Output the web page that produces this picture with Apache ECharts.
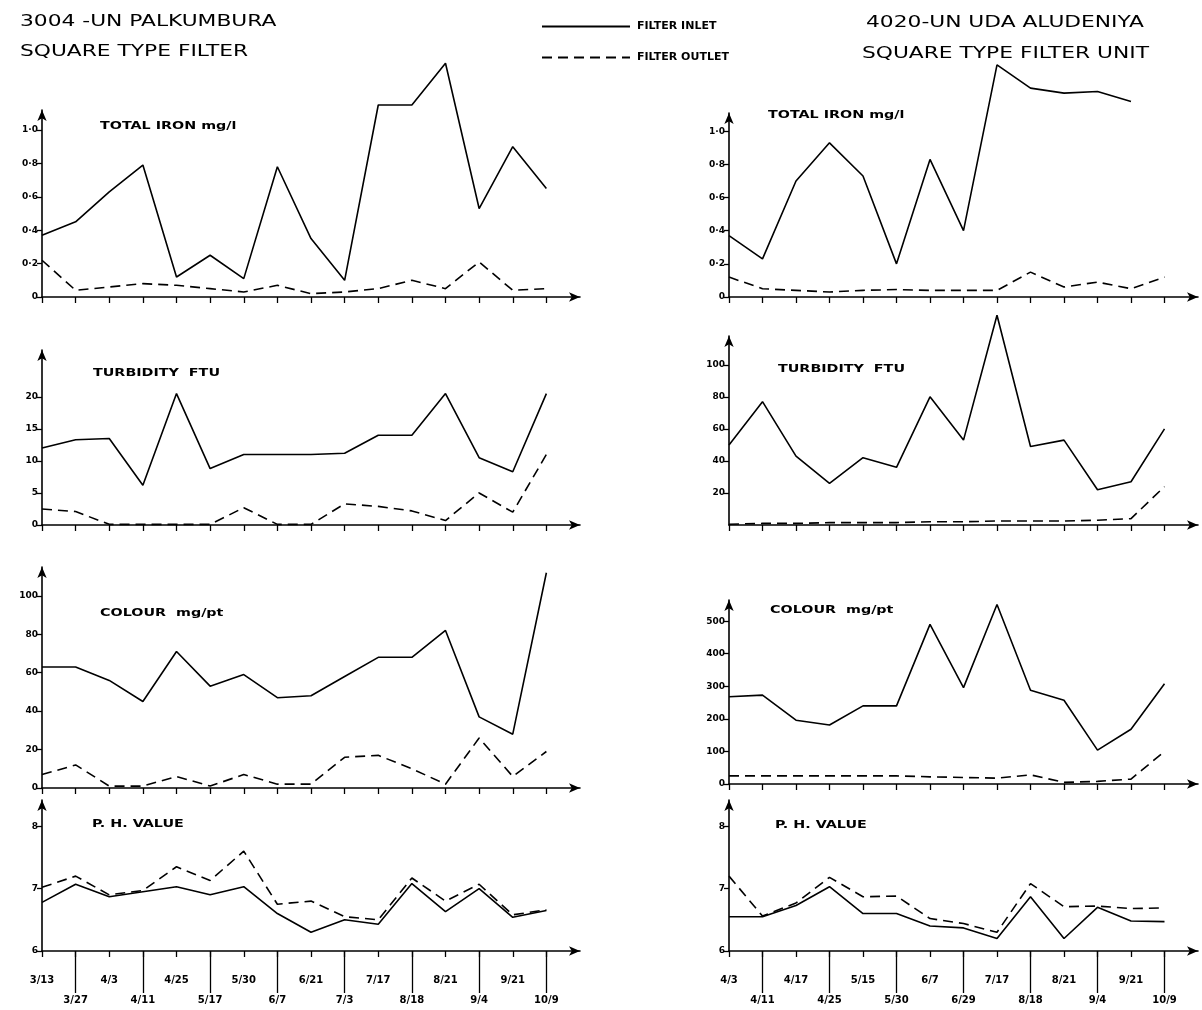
<!DOCTYPE html>
<html><head><meta charset="utf-8">
<script src="https://cdn.jsdelivr.net/npm/echarts@6/dist/echarts.min.js"></script>
<style>html,body{margin:0;padding:0;background:#fff}#c{width:1202px;height:1010px}</style>
</head><body><div id="c"></div>
<script>
// ---- categories ----
const leftDates = ['3/13','3/27','4/3','4/11','4/25','5/17','5/30','6/7','6/21','7/3','7/17','8/18','8/21','9/4','9/21','10/9'];
const rightDates = ['4/3','4/11','4/17','4/25','5/15','5/30','6/7','6/29','7/17','8/18','8/21','9/4','9/21','10/9'];

// ---- tick values ----
const ironTicks = [0,0.2,0.4,0.6,0.8,1.0];
const turbTicksL = [0,5,10,15,20];
const colTicksL = [0,20,40,60,80,100];
const phTicks = [6,7,8];
const turbTicksR = [20,40,60,80,100];
const colTicksR = [0,100,200,300,400,500];

// ---- 3004 - UN PALKUMBURA ----
const ironInL  = [0.37,0.45,0.63,0.79,0.12,0.25,0.11,0.78,0.35,0.10,1.15,1.15,1.40,0.53,0.90,0.65];
const ironOutL = [0.22,0.04,0.06,0.08,0.07,0.05,0.03,0.07,0.02,0.03,0.05,0.10,0.05,0.21,0.04,0.05];
const turbInL  = [12,13.3,13.5,6.2,20.5,8.8,11,11,11,11.2,14,14,20.5,10.5,8.3,20.5];
const turbOutL = [2.5,2.1,0.1,0.1,0.1,0.1,2.7,0.1,0.1,3.3,2.9,2.2,0.7,5,2,11];
const colInL   = [63,63,56,45,71,53,59,47,48,58,68,68,82,37,28,112];
const colOutL  = [7,12,1,1,6,1,7,2,2,16,17,10,2,26,6,19];
const phInL    = [6.78,7.07,6.87,6.95,7.03,6.9,7.03,6.6,6.3,6.5,6.43,7.08,6.63,7.0,6.54,6.65];
const phOutL   = [7.02,7.2,6.9,6.97,7.35,7.13,7.6,6.75,6.8,6.55,6.5,7.17,6.8,7.07,6.58,6.66];

// ---- 4020 - UN UDA ALUDENIYA ----
const ironInR  = [0.37,0.23,0.70,0.93,0.73,0.20,0.83,0.40,1.40,1.26,1.23,1.24,1.18,null];
const ironOutR = [0.12,0.05,0.04,0.03,0.04,0.045,0.04,0.04,0.04,0.15,0.06,0.09,0.05,0.12];
const turbInR  = [50,77,43,26,42,36,80,53,131,49,53,22,27,60];
const turbOutR = [0.5,1,1,1.5,1.5,1.5,2,2,2.5,2.5,2.5,3,4,24];
const colInR   = [268,273,196,181,240,240,490,296,551,288,257,104,168,308];
const colOutR  = [25,25,25,25,25,25,22,20,18,28,5,8,15,100];
const phInR    = [6.55,6.55,6.73,7.03,6.6,6.6,6.4,6.37,6.2,6.87,6.2,6.7,6.48,6.47];
const phOutR   = [7.2,6.56,6.77,7.18,6.87,6.88,6.52,6.44,6.3,7.08,6.71,6.72,6.68,6.69];

const FONT = 'DejaVu Sans';
const ironFmt = v => v === 0 ? '0' : Number(v).toFixed(1).replace('.', '·');
const intFmt = v => String(Math.round(v));

const panels = [
  {side:'L', top:110, zero:297, max:1.12, ticks:ironTicks, fmt:ironFmt, inl:ironInL, out:ironOutL, title:'TOTAL IRON mg/l', tx:100, ty:126},
  {side:'L', top:350, zero:525, max:27.3, ticks:turbTicksL, fmt:intFmt, inl:turbInL, out:turbOutL, title:'TURBIDITY  FTU', tx:93, ty:373},
  {side:'L', top:567, zero:788, max:115, ticks:colTicksL, fmt:intFmt, inl:colInL, out:colOutL, title:'COLOUR  mg/pt', tx:100, ty:613},
  {side:'L', top:800, zero:952, min:6, max:8.42, ticks:phTicks, fmt:intFmt, inl:phInL, out:phOutL, title:'P. H. VALUE', tx:92, ty:824, labels:true},
  {side:'R', top:113, zero:297, max:1.11, ticks:ironTicks, fmt:ironFmt, inl:ironInR, out:ironOutR, title:'TOTAL IRON mg/l', tx:768, ty:115},
  {side:'R', top:336, zero:525, max:118, ticks:turbTicksR, fmt:intFmt, inl:turbInR, out:turbOutR, title:'TURBIDITY  FTU', tx:778, ty:369},
  {side:'R', top:600, zero:784, max:565, ticks:colTicksR, fmt:intFmt, inl:colInR, out:colOutR, title:'COLOUR  mg/pt', tx:770, ty:610},
  {side:'R', top:800, zero:952, min:6, max:8.42, ticks:phTicks, fmt:intFmt, inl:phInR, out:phOutR, title:'P. H. VALUE', tx:775, ty:825, labels:true}
];

const grids = [], xAxes = [], yAxes = [], series = [], graphics = [];
const black = '#000';
panels.forEach((p, gi) => {
  const dates = p.side === 'L' ? leftDates : rightDates;
  const n = dates.length;
  const cats = dates.concat(['']);
  const left = p.side === 'L' ? 42 : 729;
  const width = p.side === 'L' ? 538 : 469;
  grids.push({left: left, width: width, top: p.top, height: p.zero - p.top});
  const xi = xAxes.length;
  xAxes.push({
    type:'category', gridIndex: gi, data: cats, boundaryGap:false, position:'bottom',
    axisLine:{show:true, symbol:['none','arrow'], symbolSize:[7,11], lineStyle:{color:black, width:1.6}},
    axisTick:{show:true, length:6, interval:(i)=> i < n, lineStyle:{color:black, width:1.3}},
    axisLabel:{show: !!p.labels, interval:0, color:black, fontFamily:FONT, fontWeight:'bold', fontSize:10,
      lineHeight:20, margin:19,
      formatter:(v, i) => i >= n ? '' : (i % 2 === 0 ? v : '\n' + v)},
    splitLine:{show:false}
  });
  if (p.labels) {
    xAxes.push({
      type:'category', gridIndex: gi, data: cats, boundaryGap:false, position:'bottom',
      axisLine:{show:false}, axisLabel:{show:false}, splitLine:{show:false},
      axisTick:{show:true, length:42, interval:(i)=> (i % 2 === 1) && i < n, lineStyle:{color:black, width:1.3}}
    });
  }
  const yi = yAxes.length;
  yAxes.push({
    type:'value', gridIndex: gi, min: p.min || 0, max: p.max,
    axisLine:{show:true, symbol:['none','arrow'], symbolSize:[7,11], lineStyle:{color:black, width:1.6}},
    axisTick:{show:true, length:5, customValues:p.ticks, lineStyle:{color:black, width:1.3}},
    splitLine:{show:false},
    axisLabel:{color:black, fontFamily:FONT, fontWeight:'bold', fontSize:9, margin:4,
      customValues:p.ticks, formatter: p.fmt}
  });
  series.push({
    name:'FILTER INLET', type:'line', xAxisIndex: xi, yAxisIndex: yi, data: p.inl,
    symbol:'none', clip:false, connectNulls:false, color:black,
    lineStyle:{color:black, width:1.6, type:'solid'}
  });
  series.push({
    name:'FILTER OUTLET', type:'line', xAxisIndex: xi, yAxisIndex: yi, data: p.out,
    symbol:'none', clip:false, color:black,
    lineStyle:{color:black, width:1.6, type:[10,6]}
  });
  graphics.push({type:'text', x:p.tx, y:p.ty, scaleX:1.3,
    style:{text:p.title, font:'bold 11px "' + FONT + '"', fill:black, verticalAlign:'middle'}});
});

// headings
[
  ['3004 -UN PALKUMBURA', 20, 22],
  ['SQUARE TYPE FILTER', 20, 52],
  ['4020-UN UDA ALUDENIYA', 866, 23],
  ['SQUARE TYPE FILTER UNIT', 862, 54]
].forEach(h => graphics.push({type:'text', x:h[1], y:h[2], scaleX:1.36,
  style:{text:h[0], font:'16px "' + FONT + '"', fill:black, verticalAlign:'middle'}}));

const chart = echarts.init(document.getElementById('c'), null, {renderer:'canvas'});
chart.setOption({
  animation:false,
  backgroundColor:'#fff',
  legend:{
    data:['FILTER INLET','FILTER OUTLET'], orient:'vertical', left:536, top:16,
    itemWidth:88, itemHeight:12, itemGap:20, selectedMode:false,
    itemStyle:{opacity:0},
    textStyle:{color:black, fontFamily:FONT, fontWeight:'bold', fontSize:11, padding:[0,0,0,2]}
  },
  grid: grids, xAxis: xAxes, yAxis: yAxes, series: series, graphic: graphics
});
</script></body></html>
